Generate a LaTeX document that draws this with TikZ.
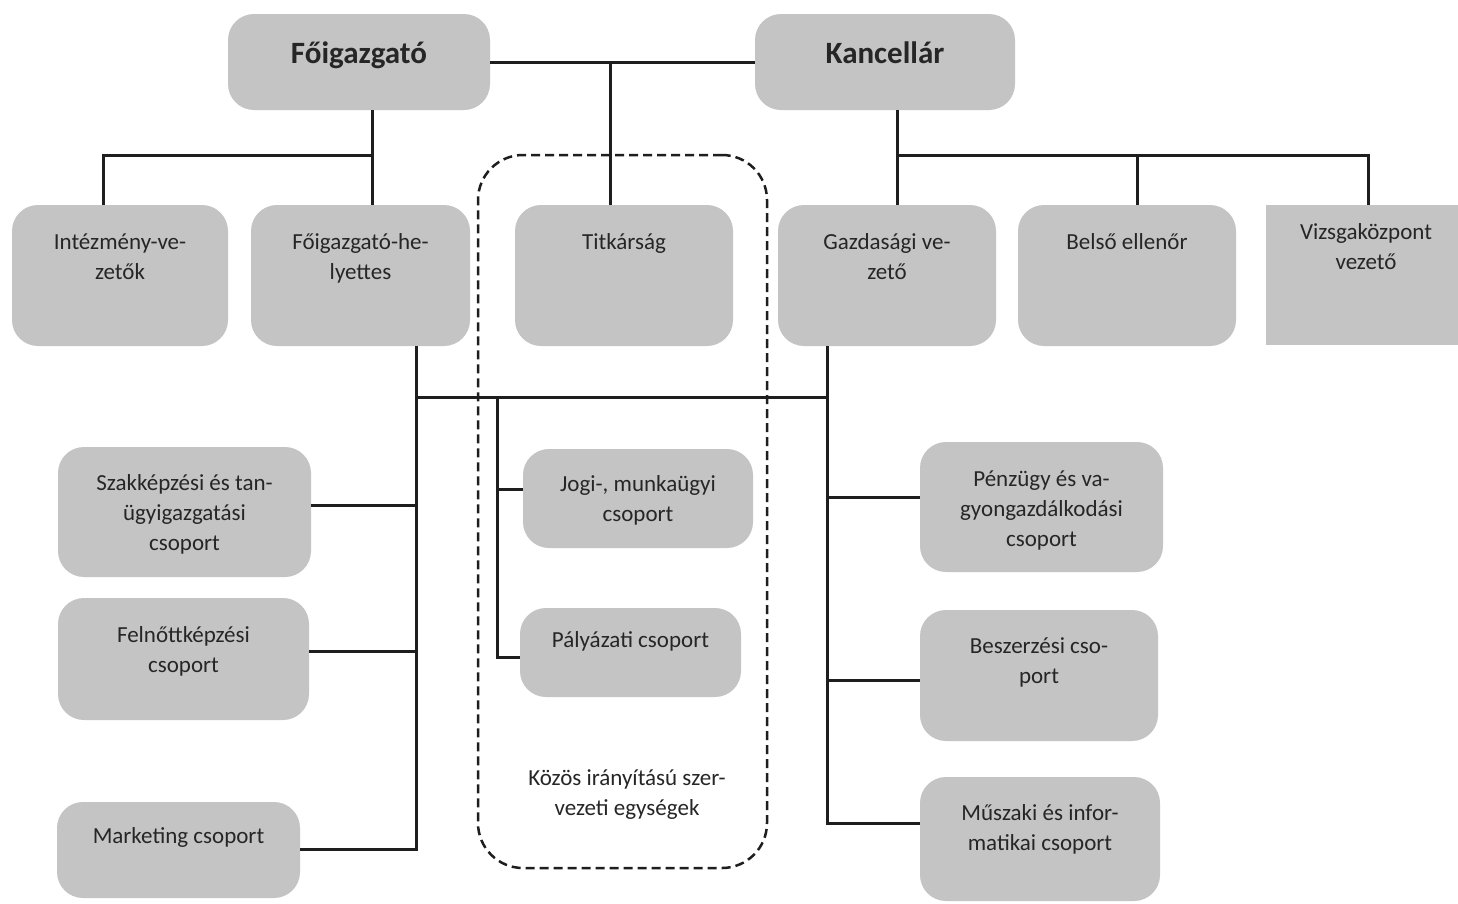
\documentclass[tikz,border=0pt]{standalone}
\usepackage{fontspec}
\setmainfont{Carlito}
\usetikzlibrary{fit}
\definecolor{boxgray}{RGB}{196,196,196}
\definecolor{ink}{RGB}{38,38,38}
\definecolor{linecol}{RGB}{30,30,30}
\tikzset{
  box/.style={fill=boxgray, draw=none, rounded corners=26pt, inner sep=0pt, outer sep=0pt},
  sqbox/.style={fill=boxgray, draw=none, inner sep=0pt, outer sep=0pt},
  lbl/.style={font=\fontsize{23}{30}\selectfont, text=ink, align=center, inner sep=0pt, anchor=north},
  ttl/.style={font=\fontsize{31}{38}\selectfont\bfseries, text=ink, align=center, inner sep=0pt, anchor=north},
  conn/.style={draw=linecol, line width=3pt},
  grp/.style={draw=linecol, line width=2.5pt, dash pattern=on 9pt off 5pt, rounded corners=45pt, inner sep=0pt},
}
% #1 box style, #2 label style, #3 name, #4 x1, #5 y1, #6 x2, #7 y2, #8 label offset, #9 text
\newcommand\obox[9]{%
  \node[#1, fit={(#4,-#5) (#6,-#7)}] (#3) {};
  \node[#2] (#3t) at ([yshift=-#8pt]#3.north) {\strut #9};
}
\begin{document}
\begin{tikzpicture}[x=1pt, y=1pt]
\useasboundingbox[fill=white] (0,0) rectangle (1458,-903);

% group frame
\node[grp, fit={(478,-155) (767,-868)}] (grpbox) {};

% boxes
\obox{box}{ttl}{fo}{228}{14}{490}{110}{23}{Főigazgató}
\obox{box}{ttl}{ka}{755}{14}{1015}{110}{23}{Kancellár}

\obox{box}{lbl}{int}{12}{205}{228}{346}{23}{Intézmény-ve-\\zetők}
\obox{box}{lbl}{fh}{251}{205}{470}{346}{23}{Főigazgató-he-\\lyettes}
\obox{box}{lbl}{tit}{515}{205}{733}{346}{23}{Titkárság}
\obox{box}{lbl}{gaz}{778}{205}{996}{346}{23}{Gazdasági ve-\\zető}
\obox{box}{lbl}{bel}{1018}{205}{1236}{346}{23}{Belső ellenőr}
\obox{sqbox}{lbl}{viz}{1266}{205}{1466}{345}{13}{Vizsgaközpont\\vezető}

\obox{box}{lbl}{szak}{58}{447}{311}{577}{22}{Szakképzési és tan-\\ügyigazgatási\\csoport}
\obox{box}{lbl}{feln}{58}{598}{309}{720}{23}{Felnőttképzési\\csoport}
\obox{box}{lbl}{mkt}{57}{802}{300}{898}{20}{Marketing csoport}

\obox{box}{lbl}{jog}{523}{449}{753}{548}{21}{Jogi-, munkaügyi\\csoport}
\obox{box}{lbl}{pal}{520}{608}{741}{697}{18}{Pályázati csoport}

\obox{box}{lbl}{pen}{920}{442}{1163}{572}{23}{Pénzügy és va-\\gyongazdálkodási\\csoport}
\obox{box}{lbl}{besz}{920}{610}{1158}{741}{22}{Beszerzési cso-\\port}
\obox{box}{lbl}{mus}{920}{777}{1160}{901}{22}{Műszaki és infor-\\matikai csoport}

\node[lbl] (koz) at (627,-764) {\strut Közös irányítású szer-\\vezeti egységek};

% junction coordinates
\coordinate (tj) at (610,-62);
\coordinate (fj) at (372,-155);
\coordinate (ij) at (103,-155);
\coordinate (kj) at (897,-155);
\coordinate (bj) at (1137,-155);
\coordinate (vj) at (1368,-155);
\coordinate (lj) at (416,-397);
\coordinate (rj) at (827,-397);
\coordinate (mj) at (497,-397);
\coordinate (ys) at (0,-505);
\coordinate (yf) at (0,-651);
\coordinate (ym) at (0,-849);
\coordinate (yj) at (0,-489);
\coordinate (yp) at (0,-657);
\coordinate (ype) at (0,-497);
\coordinate (yb) at (0,-680);
\coordinate (ymu) at (0,-823);

% top connectors
\draw[conn] (fo.east) -- (ka.west);
\draw[conn] (tj) -- (tj |- tit.north);
\draw[conn] (fo.south -| fj) -- (fj) -- (fj |- fh.north);
\draw[conn] (fj) -- (ij) -- (ij |- int.north);
\draw[conn] (ka.south -| kj) -- (kj) -- (kj |- gaz.north);
\draw[conn] (kj) -- (vj) -- (vj |- viz.north);
\draw[conn] (bj) -- (bj |- bel.north);

% lower connectors
\draw[conn] (fh.south -| lj) -- (lj |- ym) -- (mkt.east |- ym);
\draw[conn] (szak.east |- ys) -- (lj |- ys);
\draw[conn] (feln.east |- yf) -- (lj |- yf);
\draw[conn] (lj) -- (rj);
\draw[conn] (gaz.south -| rj) -- (rj |- ymu) -- (mus.west |- ymu);
\draw[conn] (rj |- ype) -- (pen.west |- ype);
\draw[conn] (rj |- yb) -- (besz.west |- yb);
\draw[conn] (mj) -- (mj |- yp) -- (pal.west |- yp);
\draw[conn] (mj |- yj) -- (jog.west |- yj);
\end{tikzpicture}
\end{document}
